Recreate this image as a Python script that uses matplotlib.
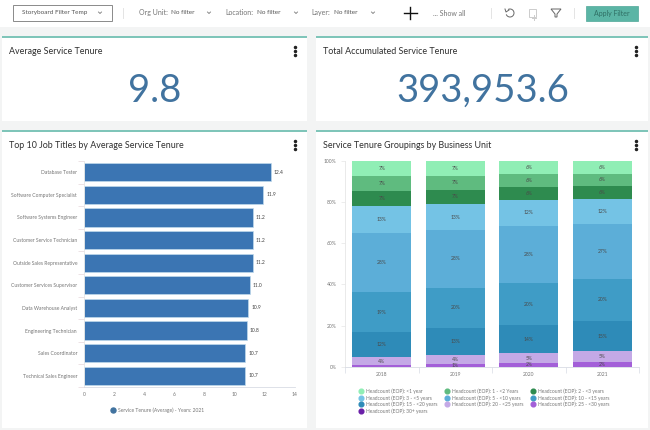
import numpy as np
import matplotlib
matplotlib.use("Agg")
import matplotlib.pyplot as plt
from matplotlib.patches import Rectangle, Arc, Polygon

plt.rcParams['font.family'] = ['Lato', 'DejaVu Sans']

W, H = 650, 430

job_titles = ["Database Tester", "Software Computer Specialist", "Software Systems Engineer",
              "Customer Service Technician", "Outside Sales Representative",
              "Customer Services Supervisor", "Data Warehouse Analyst",
              "Engineering Technician", "Sales Coordinator", "Technical Sales Engineer"]
tenure_avg = [12.4, 11.9, 11.2, 11.2, 11.2, 11.0, 10.9, 10.8, 10.7, 10.7]
bar_xticks = [0, 2, 4, 6, 8, 10, 12, 14]

years = ["2018", "2019", "2020", "2021"]
groups = ["30+ years", "25 - <30 years", "20 - <25 years", "15 - <20 years", "10 - <15 years",
          "5 - <10 years", "3 - <5 years", "2 - <3 years", "1 - <2 Years", "<1 year"]
stack_colors = ["#6A1FA8", "#A35FD8", "#C4A9E6", "#2E8BB8", "#3F9CC6",
                "#5CAED8", "#74C3E5", "#2E8B4F", "#5FBB7F", "#90EEB5"]
share_30 = [0.0, 0.0, 0.0, 0.0]
share_25 = [0.8, 1.3, 1.8, 2.4]
share_20 = [3.9, 4.4, 4.7, 5.2]
share_15 = [12.1, 13.1, 13.7, 14.6]
share_10 = [19.4, 19.6, 20.4, 20.4]
share_5 = [28.5, 27.9, 27.9, 26.7]
share_3 = [13.2, 12.7, 12.3, 12.1]
share_2 = [7.3, 6.8, 6.4, 6.3]
share_1 = [7.3, 6.8, 6.4, 5.9]
share_0 = [7.4, 7.4, 6.4, 6.4]
stack_yticks = [0, 20, 40, 60, 80, 100]

legend_order = ["<1 year", "1 - <2 Years", "2 - <3 years", "3 - <5 years", "5 - <10 years",
                "10 - <15 years", "15 - <20 years", "20 - <25 years", "25 - <30 years", "30+ years"]

GREY = "#757575"
DARK = "#2f2f2f"
TEAL = "#7CC4B8"
SMALL = 3.6


def px_axes(x0, y0, x1, y1):
    # axes placed by pixel box, y measured from the top
    return fig.add_axes([x0 / W, 1 - y1 / H, (x1 - x0) / W, (y1 - y0) / H])


fig = plt.figure(figsize=(W / 100, H / 100), dpi=100, facecolor="#F3F4F4")

bg = fig.add_axes([0, 0, 1, 1])
bg.set_xlim(0, W)
bg.set_ylim(H, 0)
bg.axis("off")


def txt(x, y, s, size=5, color=GREY, ha="left", **kw):
    return bg.text(x, y, s, fontsize=size, color=color, ha=ha, va="center", **kw)


def chevron(x, y):
    bg.plot([x - 1.5, x, x + 1.5], [y - 1, y + 0.5, y - 1], color=GREY, lw=0.6)


def dots(x, y):
    for dy in (-4, 0, 4):
        bg.plot([x], [y + dy], "o", color="#222222", ms=1.5)


def card(x0, y0, x1, y1, title):
    bg.add_patch(Rectangle((x0, y0), x1 - x0, y1 - y0, fc="white", ec="none"))
    bg.plot([x0, x1], [y0, y0], color=TEAL, lw=1.4, solid_capstyle="butt")
    txt(x0 + 7, y0 + 14, title, size=6.4, color=DARK)
    dots(x1 - 12, y0 + 14)


# toolbar
bg.add_patch(Rectangle((0, 0), W, 27, fc="white", ec="none"))
bg.add_patch(Rectangle((13, 5), 99, 15.5, fc="white", ec="#8a8a8a", lw=0.7))
txt(22, 12.5, "Storyboard Filter Temp", size=4.6, color="#555555")
chevron(100, 13)
bg.plot([123, 123], [8, 18], color="#e4e4e4", lw=0.7)
txt(139, 12.5, "Org Unit:", size=5)
txt(171, 12.5, "No filter", size=4.6, color="#555555")
chevron(209, 13)
txt(225, 12.5, "Location:", size=5)
txt(257, 12.5, "No filter", size=4.6, color="#555555")
chevron(296, 13)
txt(311, 12.5, "Layer:", size=5)
txt(334, 12.5, "No filter", size=4.6, color="#555555")
chevron(373, 13)
bg.plot([410, 410], [7, 19], color="#111111", lw=1)
bg.plot([404, 417], [13, 13], color="#111111", lw=1)
txt(433, 13, "... Show all", size=5)
bg.plot([491, 491], [8, 18], color="#e4e4e4", lw=0.7)
bg.add_patch(Arc((510, 13), 8, 8, theta1=-120, theta2=160, color="#666666", lw=0.7))
bg.plot([505, 506, 509], [9, 12, 10], color="#666666", lw=0.7)
bg.add_patch(Rectangle((529, 9), 7, 8, fc="none", ec="#cccccc", lw=0.7))
bg.plot([534, 534], [15, 20], color="#cccccc", lw=0.7)
bg.plot([532, 536], [17.5, 17.5], color="#cccccc", lw=0.7)
bg.add_patch(Polygon([[551, 9], [561, 9], [557, 14], [557, 17], [555, 17], [555, 14]],
                     fc="none", ec="#666666", lw=0.7))
bg.plot([574, 574], [8, 18], color="#e4e4e4", lw=0.7)
bg.add_patch(Rectangle((586, 6), 52, 15, fc="#5BB5A5", ec="#4fa898", lw=0.5))
txt(612, 13.5, "Apply Filter", size=5, color="#2f6f64", ha="center")

# cards
card(2, 37, 307, 121, "Average Service Tenure")
card(316, 37, 648, 121, "Total Accumulated Service Tenure")
card(2, 131, 307, 428, "Top 10 Job Titles by Average Service Tenure")
card(316, 131, 648, 428, "Service Tenure Groupings by Business Unit")

txt(155, 91, "9.8", size=27.5, color="#41739F", ha="center")
txt(483, 91, "393,953.6", size=27.5, color="#41739F", ha="center")

# bar chart
ax = px_axes(84, 161, 295, 387)
ax.patch.set_alpha(0)
pos = np.arange(len(job_titles))
ax.barh(pos, tenure_avg, height=0.8, color="#3B75B3", edgecolor="#BFD9EC", linewidth=0.5)
for p, v in zip(pos, tenure_avg):
    ax.text(v + 0.2, p, f"{v:.1f}", fontsize=SMALL, color="#444444", va="center")
ax.set_xlim(0, 14)
ax.set_ylim(len(job_titles) - 0.5, -0.5)
ax.set_yticks(pos, job_titles)
ax.set_yticks(np.arange(len(job_titles) + 1) - 0.5, minor=True)
ax.set_xticks(bar_xticks)
ax.tick_params(axis="y", which="major", length=0, labelsize=SMALL, labelcolor=GREY, pad=5)
ax.tick_params(axis="y", which="minor", length=4, color="#e6d8dc", width=0.5)
ax.tick_params(axis="x", length=0, labelsize=SMALL, labelcolor=GREY, pad=3.5)
for s in ("top", "right"):
    ax.spines[s].set_visible(False)
ax.spines["left"].set_color("#e6e6e6")
ax.spines["bottom"].set_color("#d8dce4")
for s in ("left", "bottom"):
    ax.spines[s].set_linewidth(0.6)

bg.plot([113], [410], "o", color="#41739F", ms=3.6)
txt(118, 410.5, "Service Tenure (Average) - Years: 2021", size=SMALL)

# stacked chart
ax2 = px_axes(345, 160.7, 639, 366.7)
ax2.patch.set_alpha(0)
shares = [share_30, share_25, share_20, share_15, share_10, share_5, share_3, share_2, share_1, share_0]
xs = np.arange(len(years))
bottom = np.zeros(len(years))
for vals, col in zip(shares, stack_colors):
    vals = np.array(vals)
    ax2.bar(xs, vals, bottom=bottom, width=0.8, color=col, linewidth=0)
    for x, v, b in zip(xs, vals, bottom):
        if v >= 1.2:
            ax2.text(x, b + v / 2, f"{v:.0f}%", fontsize=SMALL, color="#4a4a4a", ha="center", va="center")
    bottom = bottom + vals
ax2.set_xlim(-0.5, len(years) - 0.5)
ax2.set_ylim(0, 100)
ax2.set_xticks(xs, years)
ax2.set_xticks(np.arange(len(years) + 1) - 0.5, minor=True)
ax2.set_yticks(stack_yticks, [f"{t}%" for t in stack_yticks])
ax2.tick_params(axis="x", which="major", length=0, labelsize=SMALL, labelcolor=GREY, pad=4)
ax2.tick_params(axis="x", which="minor", length=4, color="#d8dce4", width=0.5)
ax2.tick_params(axis="y", length=3, color="#e6e6e6", width=0.5, labelsize=SMALL, labelcolor=GREY, pad=3)
for s in ("top", "right"):
    ax2.spines[s].set_visible(False)
ax2.spines["left"].set_color("#e6e6e6")
ax2.spines["bottom"].set_color("#d8dce4")
for s in ("left", "bottom"):
    ax2.spines[s].set_linewidth(0.6)

# legend laid out by hand, three columns
col_x = [361, 447, 533]
row_y = [391, 397.5, 404, 410.5]
for i, name in enumerate(legend_order):
    col = stack_colors[groups.index(name)]
    lx = col_x[i % 3]
    ly = row_y[i // 3]
    bg.plot([lx], [ly], "o", color=col, ms=3.4)
    txt(lx + 5, ly + 0.3, f"Headcount (EOP): {name}", size=3.5)

fig.savefig("out.png", dpi=100, facecolor=fig.get_facecolor())
